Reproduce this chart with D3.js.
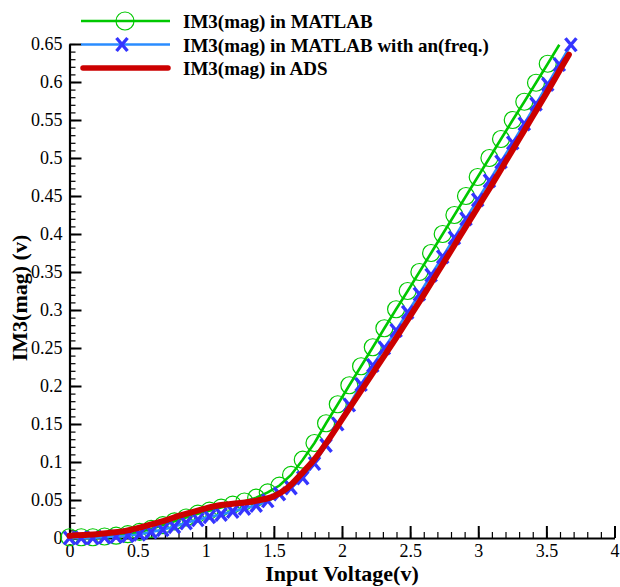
<!DOCTYPE html>
<html>
  <head>
    <meta charset="utf-8">
    <title>IM3 magnitude</title>
    <script src="https://d3js.org/d3.v7.min.js"></script>
    <style>
      body { margin: 0; background: #fff; }
    </style>
  </head>
  <body>
    <script>
      var width = 620;
      var height = 587;
      var serif = "'Liberation Serif', 'Times New Roman', Times, 'DejaVu Serif', serif";

      // tick labels
      var xTickLabels = ["0", "0.5", "1", "1.5", "2", "2.5", "3", "3.5", "4"];
      var yTickLabels = ["0", "0.05", "0.1", "0.15", "0.2", "0.25", "0.3", "0.35", "0.4", "0.45", "0.5", "0.55", "0.6", "0.65"];

      // legend names
      var seriesNames = ["IM3(mag) in MATLAB", "IM3(mag) in MATLAB with an(freq.)", "IM3(mag) in ADS"];

      // sample grid shared by both MATLAB curves
      var matlabX = [0, 0.086, 0.171, 0.257, 0.342, 0.428, 0.514, 0.599, 0.685, 0.770,
        0.856, 0.942, 1.027, 1.113, 1.198, 1.284, 1.370, 1.455, 1.541, 1.626,
        1.712, 1.798, 1.883, 1.969, 2.054, 2.140, 2.226, 2.311, 2.397, 2.482,
        2.568, 2.654, 2.739, 2.825, 2.910, 2.996, 3.082, 3.167, 3.253, 3.338,
        3.424, 3.510, 3.595, 3.680];

      // MATLAB (last point has no symbol)
      var matlabY = [0.001, 0.001, 0.001, 0.002, 0.003, 0.005, 0.008, 0.012, 0.017, 0.022,
        0.027, 0.032, 0.036, 0.040, 0.044, 0.048, 0.053, 0.060, 0.069, 0.083,
        0.103, 0.125, 0.151, 0.176, 0.201, 0.226, 0.251, 0.276, 0.301, 0.325,
        0.350, 0.375, 0.400, 0.425, 0.450, 0.475, 0.500, 0.525, 0.550, 0.574,
        0.599, 0.624, 0.649];

      // MATLAB with an(freq.)
      var freqY = [0.000, 0.000, 0.000, 0.001, 0.002, 0.003, 0.005, 0.008, 0.011, 0.015,
        0.020, 0.024, 0.028, 0.031, 0.035, 0.039, 0.043, 0.049, 0.058, 0.066,
        0.079, 0.098, 0.122, 0.150, 0.175, 0.202, 0.227, 0.250, 0.273, 0.297,
        0.321, 0.346, 0.370, 0.395, 0.420, 0.445, 0.470, 0.495, 0.520, 0.545,
        0.571, 0.597, 0.623, 0.649];

      // ADS
      var adsX = [0, 0.1, 0.2, 0.3, 0.4, 0.5, 0.6, 0.7, 0.8, 0.9,
        1.0, 1.1, 1.2, 1.3, 1.4, 1.5, 1.6, 1.7, 1.8, 1.9,
        2.0, 2.1, 2.2, 2.3, 2.4, 2.5, 2.6, 2.7, 2.8, 2.9,
        3.0, 3.1, 3.2, 3.3, 3.4, 3.5, 3.6, 3.665];
      var adsY = [0.003, 0.004, 0.005, 0.007, 0.009, 0.013, 0.018, 0.023, 0.029, 0.034,
        0.039, 0.043, 0.045, 0.047, 0.050, 0.055, 0.066, 0.084, 0.104, 0.129,
        0.156, 0.183, 0.210, 0.237, 0.264, 0.292, 0.320, 0.349, 0.378, 0.407,
        0.436, 0.465, 0.495, 0.525, 0.555, 0.585, 0.616, 0.636];

      var green = "#00c800";
      var blueLine = "#2a8cff";
      var blueMark = "#3535ff";
      var red = "#cc0000";

      var svg = d3.select("body").append("svg")
        .attr("width", width).attr("height", height)
        .style("font-family", serif);

      var plotLeft = 69.5, plotRight = 614.5, plotTop = 44, plotBottom = 538;

      var xScale = d3.scaleLinear().domain([0, 4]).range([plotLeft, plotRight]);
      var yScale = d3.scaleLinear().domain([0, 0.65]).range([plotBottom, plotTop]);

      // minor ticks
      svg.append("g")
        .attr("transform", "translate(0," + plotBottom + ")")
        .call(d3.axisBottom(xScale).ticks(40).tickSizeInner(-6).tickSizeOuter(0).tickFormat(""))
        .call(g => g.select(".domain").remove())
        .selectAll("line").attr("stroke-width", 1.2);

      svg.append("g")
        .attr("transform", "translate(" + plotLeft + ",0)")
        .call(d3.axisLeft(yScale).ticks(65).tickSizeInner(-6).tickSizeOuter(0).tickFormat(""))
        .call(g => g.select(".domain").remove())
        .selectAll("line").attr("stroke-width", 1.2);

      // major ticks + labels
      var axisx = d3.axisBottom(xScale)
        .tickValues(xTickLabels.map(Number))
        .tickFormat((d, i) => xTickLabels[i])
        .tickSizeInner(-12).tickSizeOuter(0).tickPadding(8);

      var axisy = d3.axisLeft(yScale)
        .tickValues(yTickLabels.map(Number))
        .tickFormat((d, i) => yTickLabels[i])
        .tickSizeInner(-12).tickSizeOuter(0).tickPadding(7);

      var gx = svg.append("g")
        .attr("transform", "translate(0," + plotBottom + ")")
        .call(axisx)
        .attr("font-family", null);
      gx.selectAll("line").attr("stroke-width", 2);
      gx.select(".domain").attr("stroke-width", 2.2);
      gx.selectAll("text").attr("fill", "#000").attr("dy", "0.6em")
        .style("font-family", serif).style("font-size", "18px");

      var gy = svg.append("g")
        .attr("transform", "translate(" + plotLeft + ",0)")
        .call(axisy)
        .attr("font-family", null);
      gy.selectAll("line").attr("stroke-width", 2);
      gy.select(".domain").attr("stroke-width", 2.2);
      gy.selectAll("text").attr("fill", "#000")
        .style("font-family", serif).style("font-size", "18px");

      // axis titles
      svg.append("text")
        .attr("x", (plotLeft + plotRight) / 2)
        .attr("y", 581)
        .attr("text-anchor", "middle")
        .style("font-family", serif)
        .style("font-size", "22px")
        .style("font-weight", "bold")
        .text("Input Voltage(v)");

      svg.append("text")
        .attr("transform", "translate(27," + 298 + ") rotate(-90)")
        .attr("text-anchor", "middle")
        .style("font-family", serif)
        .style("font-size", "22px")
        .style("font-weight", "bold")
        .text("IM3(mag) (v)");

      var matlabData = matlabY.map((y, i) => [matlabX[i], y]);
      var freqData = freqY.map((y, i) => [matlabX[i], y]);
      var adsData = adsY.map((y, i) => [adsX[i], y]);

      var line = d3.line()
        .x((d) => { return xScale(d[0]); })
        .y((d) => { return yScale(d[1]); });

      function xMark(sel, cx, cy) {
        sel.append("path")
          .attr("d", "M" + (cx - 5.5) + "," + (cy - 6.5) + "L" + (cx + 5.5) + "," + (cy + 6.5) +
            "M" + (cx - 5.5) + "," + (cy + 6.5) + "L" + (cx + 5.5) + "," + (cy - 6.5))
          .attr("stroke", blueMark)
          .attr("stroke-width", 3.4)
          .attr("fill", "none");
      }

      // MATLAB
      svg.append("path")
        .datum(matlabData)
        .attr("d", line)
        .attr("fill", "none")
        .attr("stroke", green)
        .attr("stroke-width", 2.6);

      svg.append("g")
        .selectAll("circle")
        .data(matlabData.slice(0, matlabData.length - 1))
        .enter()
        .append("circle")
        .attr("cx", (d) => { return xScale(d[0]); })
        .attr("cy", (d) => { return yScale(d[1]); })
        .attr("r", 8.5)
        .attr("fill", "none")
        .attr("stroke", green)
        .attr("stroke-width", 1.2);

      // MATLAB with an(freq.)
      svg.append("path")
        .datum(freqData)
        .attr("d", line)
        .attr("fill", "none")
        .attr("stroke", blueLine)
        .attr("stroke-width", 2.6);

      var gMarks = svg.append("g");
      freqData.forEach((d) => { xMark(gMarks, xScale(d[0]), yScale(d[1])); });

      // ADS
      svg.append("path")
        .datum(adsData)
        .attr("d", line.curve(d3.curveMonotoneX))
        .attr("fill", "none")
        .attr("stroke", red)
        .attr("stroke-width", 6)
        .attr("stroke-linecap", "round")
        .attr("stroke-linejoin", "round");

      // legend
      var legendY = [21, 44.5, 68];
      var leg = svg.append("g");
      leg.append("line").attr("x1", 81).attr("x2", 170).attr("y1", legendY[0]).attr("y2", legendY[0])
        .attr("stroke", green).attr("stroke-width", 2.6);
      leg.append("circle").attr("cx", 125).attr("cy", legendY[0]).attr("r", 9)
        .attr("fill", "none").attr("stroke", green).attr("stroke-width", 1.2);
      leg.append("line").attr("x1", 81).attr("x2", 170).attr("y1", legendY[1]).attr("y2", legendY[1])
        .attr("stroke", blueLine).attr("stroke-width", 2.6);
      xMark(leg, 122, legendY[1]);
      leg.append("line").attr("x1", 83).attr("x2", 168).attr("y1", legendY[2]).attr("y2", legendY[2])
        .attr("stroke", red).attr("stroke-width", 5.5).attr("stroke-linecap", "round");

      leg.selectAll("text")
        .data(seriesNames)
        .enter()
        .append("text")
        .attr("x", 183)
        .attr("y", (d, i) => { return legendY[i] + 7; })
        .style("font-family", serif)
        .style("font-size", "19px")
        .style("font-weight", "bold")
        .text((d) => { return d; });
    </script>
  </body>
</html>
